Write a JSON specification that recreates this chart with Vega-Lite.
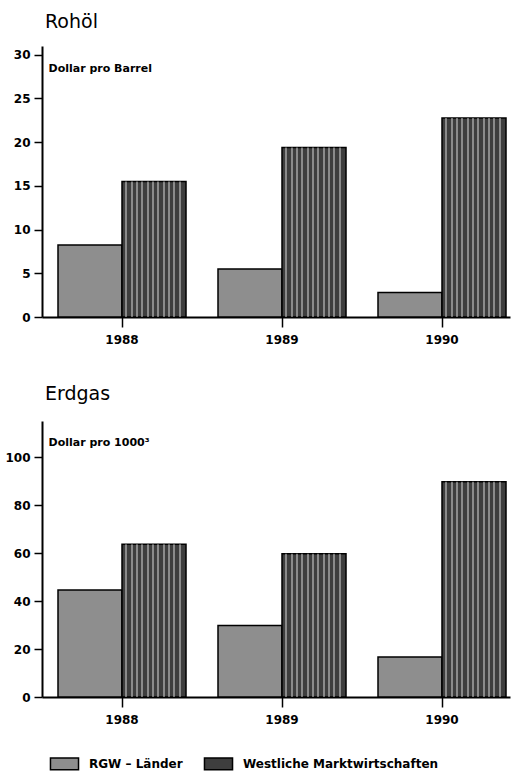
{
  "$schema": "https://vega.github.io/schema/vega-lite/v6.json",
  "padding": {"left": 4, "right": 8, "top": 13, "bottom": 2},
  "background": "white",
  "spacing": 40,
  "config": {
    "font": "DejaVu Sans",
    "view": {"stroke": null},
    "axis": {"grid": false, "domainColor": "black", "domainWidth": 2, "tickColor": "black", "tickWidth": 1.5, "labelColor": "black", "labelFont": "DejaVu Sans", "labelFontSize": 12, "labelFontWeight": "bold"},
    "title": {"anchor": "start", "frame": "group", "fontSize": 19, "fontWeight": "normal", "color": "black", "font": "DejaVu Sans"}
  },
  "datasets": {
    "rohoel": [
      {"Jahr": "1988", "Gruppe": "RGW – Länder", "Preis": 8.25},
      {"Jahr": "1988", "Gruppe": "Westliche Marktwirtschaften", "Preis": 15.5},
      {"Jahr": "1989", "Gruppe": "RGW – Länder", "Preis": 5.5},
      {"Jahr": "1989", "Gruppe": "Westliche Marktwirtschaften", "Preis": 19.4},
      {"Jahr": "1990", "Gruppe": "RGW – Länder", "Preis": 2.8},
      {"Jahr": "1990", "Gruppe": "Westliche Marktwirtschaften", "Preis": 22.75}
    ],
    "erdgas": [
      {"Jahr": "1988", "Gruppe": "RGW – Länder", "Preis": 44.6},
      {"Jahr": "1988", "Gruppe": "Westliche Marktwirtschaften", "Preis": 63.6},
      {"Jahr": "1989", "Gruppe": "RGW – Länder", "Preis": 29.8},
      {"Jahr": "1989", "Gruppe": "Westliche Marktwirtschaften", "Preis": 59.7},
      {"Jahr": "1990", "Gruppe": "RGW – Länder", "Preis": 16.7},
      {"Jahr": "1990", "Gruppe": "Westliche Marktwirtschaften", "Preis": 89.7}
    ]
  },
  "vconcat": [
    {
      "title": {"text": "Rohöl", "offset": 14, "dx": 3},
      "width": 468,
      "height": 271,
      "data": {"name": "rohoel"},
      "encoding": {
        "x": {"field": "Jahr", "type": "nominal", "scale": {"paddingInner": 0.2, "paddingOuter": 0.0625, "align": 0.8}, "axis": {"title": null, "labelAngle": 0, "tickSize": 10, "labelPadding": 7}},
        "xOffset": {"field": "Gruppe", "type": "nominal", "scale": {"paddingInner": 0, "paddingOuter": 0}},
        "y": {"field": "Preis", "type": "quantitative", "scale": {"domain": [0, 31], "nice": false}, "axis": {"values": [0, 5, 10, 15, 20, 25, 30], "title": "Dollar pro Barrel", "titleAngle": 0, "titleAlign": "left", "titleBaseline": "middle", "titleX": 6, "titleY": 22, "titleFontSize": 11, "titleFontWeight": "bold", "tickSize": 8, "labelPadding": 4, "minExtent": 36, "maxExtent": 36}}
      },
      "layer": [
        {
          "mark": {"type": "bar", "stroke": "black", "strokeWidth": 1.5},
          "encoding": {
            "color": {"field": "Gruppe", "type": "nominal", "scale": {"range": ["#8e8e8e", "#3e3e3e"]}, "legend": {"orient": "none", "legendX": 10, "legendY": 705, "direction": "horizontal", "title": null, "symbolType": "M-1.2,-0.5H1.2V0.5H-1.2Z", "symbolSize": 547, "symbolStrokeColor": "black", "symbolStrokeWidth": 1.5, "symbolOpacity": 1, "labelFontSize": 12, "labelFontWeight": "bold", "labelColor": "black", "labelOffset": 12, "labelLimit": 400, "columnPadding": 18}}
          }
        },
        {
          "transform": [{"filter": "datum.Gruppe === 'Westliche Marktwirtschaften'"}],
          "mark": {"type": "bar", "strokeWidth": 0, "fill": {"gradient": "linear", "x1": 0, "y1": 0, "x2": 1, "y2": 0, "stops": [
            {"offset": 0, "color": "rgba(255,255,255,0)"}, {"offset": 0.05, "color": "rgba(255,255,255,0)"}, {"offset": 0.05, "color": "rgba(255,255,255,0.4)"}, {"offset": 0.0833, "color": "rgba(255,255,255,0.4)"},
            {"offset": 0.0833, "color": "rgba(255,255,255,0)"}, {"offset": 0.1333, "color": "rgba(255,255,255,0)"}, {"offset": 0.1333, "color": "rgba(255,255,255,0.4)"}, {"offset": 0.1667, "color": "rgba(255,255,255,0.4)"},
            {"offset": 0.1667, "color": "rgba(255,255,255,0)"}, {"offset": 0.2167, "color": "rgba(255,255,255,0)"}, {"offset": 0.2167, "color": "rgba(255,255,255,0.4)"}, {"offset": 0.25, "color": "rgba(255,255,255,0.4)"},
            {"offset": 0.25, "color": "rgba(255,255,255,0)"}, {"offset": 0.3, "color": "rgba(255,255,255,0)"}, {"offset": 0.3, "color": "rgba(255,255,255,0.4)"}, {"offset": 0.3333, "color": "rgba(255,255,255,0.4)"},
            {"offset": 0.3333, "color": "rgba(255,255,255,0)"}, {"offset": 0.3833, "color": "rgba(255,255,255,0)"}, {"offset": 0.3833, "color": "rgba(255,255,255,0.4)"}, {"offset": 0.4167, "color": "rgba(255,255,255,0.4)"},
            {"offset": 0.4167, "color": "rgba(255,255,255,0)"}, {"offset": 0.4667, "color": "rgba(255,255,255,0)"}, {"offset": 0.4667, "color": "rgba(255,255,255,0.4)"}, {"offset": 0.5, "color": "rgba(255,255,255,0.4)"},
            {"offset": 0.5, "color": "rgba(255,255,255,0)"}, {"offset": 0.55, "color": "rgba(255,255,255,0)"}, {"offset": 0.55, "color": "rgba(255,255,255,0.4)"}, {"offset": 0.5833, "color": "rgba(255,255,255,0.4)"},
            {"offset": 0.5833, "color": "rgba(255,255,255,0)"}, {"offset": 0.6333, "color": "rgba(255,255,255,0)"}, {"offset": 0.6333, "color": "rgba(255,255,255,0.4)"}, {"offset": 0.6667, "color": "rgba(255,255,255,0.4)"},
            {"offset": 0.6667, "color": "rgba(255,255,255,0)"}, {"offset": 0.7167, "color": "rgba(255,255,255,0)"}, {"offset": 0.7167, "color": "rgba(255,255,255,0.4)"}, {"offset": 0.75, "color": "rgba(255,255,255,0.4)"},
            {"offset": 0.75, "color": "rgba(255,255,255,0)"}, {"offset": 0.8, "color": "rgba(255,255,255,0)"}, {"offset": 0.8, "color": "rgba(255,255,255,0.4)"}, {"offset": 0.8333, "color": "rgba(255,255,255,0.4)"},
            {"offset": 0.8333, "color": "rgba(255,255,255,0)"}, {"offset": 0.8833, "color": "rgba(255,255,255,0)"}, {"offset": 0.8833, "color": "rgba(255,255,255,0.4)"}, {"offset": 0.9167, "color": "rgba(255,255,255,0.4)"},
            {"offset": 0.9167, "color": "rgba(255,255,255,0)"}, {"offset": 1, "color": "rgba(255,255,255,0)"}
          ]}}
        }
      ]
    },
    {
      "title": {"text": "Erdgas", "offset": 17, "dx": 3},
      "width": 468,
      "height": 276,
      "data": {"name": "erdgas"},
      "encoding": {
        "x": {"field": "Jahr", "type": "nominal", "scale": {"paddingInner": 0.2, "paddingOuter": 0.0625, "align": 0.8}, "axis": {"title": null, "labelAngle": 0, "tickSize": 10, "labelPadding": 7}},
        "xOffset": {"field": "Gruppe", "type": "nominal", "scale": {"paddingInner": 0, "paddingOuter": 0}},
        "y": {"field": "Preis", "type": "quantitative", "scale": {"domain": [0, 115], "nice": false}, "axis": {"values": [0, 20, 40, 60, 80, 100], "title": "Dollar pro 1000³", "titleAngle": 0, "titleAlign": "left", "titleBaseline": "middle", "titleX": 6, "titleY": 21, "titleFontSize": 11, "titleFontWeight": "bold", "tickSize": 8, "labelPadding": 4, "minExtent": 36, "maxExtent": 36}}
      },
      "layer": [
        {
          "mark": {"type": "bar", "stroke": "black", "strokeWidth": 1.5},
          "encoding": {
            "color": {"field": "Gruppe", "type": "nominal", "scale": {"range": ["#8e8e8e", "#3e3e3e"]}, "legend": {"orient": "none", "legendX": 10, "legendY": 705, "direction": "horizontal", "title": null, "symbolType": "M-1.2,-0.5H1.2V0.5H-1.2Z", "symbolSize": 547, "symbolStrokeColor": "black", "symbolStrokeWidth": 1.5, "symbolOpacity": 1, "labelFontSize": 12, "labelFontWeight": "bold", "labelColor": "black", "labelOffset": 12, "labelLimit": 400, "columnPadding": 18}}
          }
        },
        {
          "transform": [{"filter": "datum.Gruppe === 'Westliche Marktwirtschaften'"}],
          "mark": {"type": "bar", "strokeWidth": 0, "fill": {"gradient": "linear", "x1": 0, "y1": 0, "x2": 1, "y2": 0, "stops": [
            {"offset": 0, "color": "rgba(255,255,255,0)"}, {"offset": 0.05, "color": "rgba(255,255,255,0)"}, {"offset": 0.05, "color": "rgba(255,255,255,0.4)"}, {"offset": 0.0833, "color": "rgba(255,255,255,0.4)"},
            {"offset": 0.0833, "color": "rgba(255,255,255,0)"}, {"offset": 0.1333, "color": "rgba(255,255,255,0)"}, {"offset": 0.1333, "color": "rgba(255,255,255,0.4)"}, {"offset": 0.1667, "color": "rgba(255,255,255,0.4)"},
            {"offset": 0.1667, "color": "rgba(255,255,255,0)"}, {"offset": 0.2167, "color": "rgba(255,255,255,0)"}, {"offset": 0.2167, "color": "rgba(255,255,255,0.4)"}, {"offset": 0.25, "color": "rgba(255,255,255,0.4)"},
            {"offset": 0.25, "color": "rgba(255,255,255,0)"}, {"offset": 0.3, "color": "rgba(255,255,255,0)"}, {"offset": 0.3, "color": "rgba(255,255,255,0.4)"}, {"offset": 0.3333, "color": "rgba(255,255,255,0.4)"},
            {"offset": 0.3333, "color": "rgba(255,255,255,0)"}, {"offset": 0.3833, "color": "rgba(255,255,255,0)"}, {"offset": 0.3833, "color": "rgba(255,255,255,0.4)"}, {"offset": 0.4167, "color": "rgba(255,255,255,0.4)"},
            {"offset": 0.4167, "color": "rgba(255,255,255,0)"}, {"offset": 0.4667, "color": "rgba(255,255,255,0)"}, {"offset": 0.4667, "color": "rgba(255,255,255,0.4)"}, {"offset": 0.5, "color": "rgba(255,255,255,0.4)"},
            {"offset": 0.5, "color": "rgba(255,255,255,0)"}, {"offset": 0.55, "color": "rgba(255,255,255,0)"}, {"offset": 0.55, "color": "rgba(255,255,255,0.4)"}, {"offset": 0.5833, "color": "rgba(255,255,255,0.4)"},
            {"offset": 0.5833, "color": "rgba(255,255,255,0)"}, {"offset": 0.6333, "color": "rgba(255,255,255,0)"}, {"offset": 0.6333, "color": "rgba(255,255,255,0.4)"}, {"offset": 0.6667, "color": "rgba(255,255,255,0.4)"},
            {"offset": 0.6667, "color": "rgba(255,255,255,0)"}, {"offset": 0.7167, "color": "rgba(255,255,255,0)"}, {"offset": 0.7167, "color": "rgba(255,255,255,0.4)"}, {"offset": 0.75, "color": "rgba(255,255,255,0.4)"},
            {"offset": 0.75, "color": "rgba(255,255,255,0)"}, {"offset": 0.8, "color": "rgba(255,255,255,0)"}, {"offset": 0.8, "color": "rgba(255,255,255,0.4)"}, {"offset": 0.8333, "color": "rgba(255,255,255,0.4)"},
            {"offset": 0.8333, "color": "rgba(255,255,255,0)"}, {"offset": 0.8833, "color": "rgba(255,255,255,0)"}, {"offset": 0.8833, "color": "rgba(255,255,255,0.4)"}, {"offset": 0.9167, "color": "rgba(255,255,255,0.4)"},
            {"offset": 0.9167, "color": "rgba(255,255,255,0)"}, {"offset": 1, "color": "rgba(255,255,255,0)"}
          ]}}
        }
      ]
    }
  ]
}
